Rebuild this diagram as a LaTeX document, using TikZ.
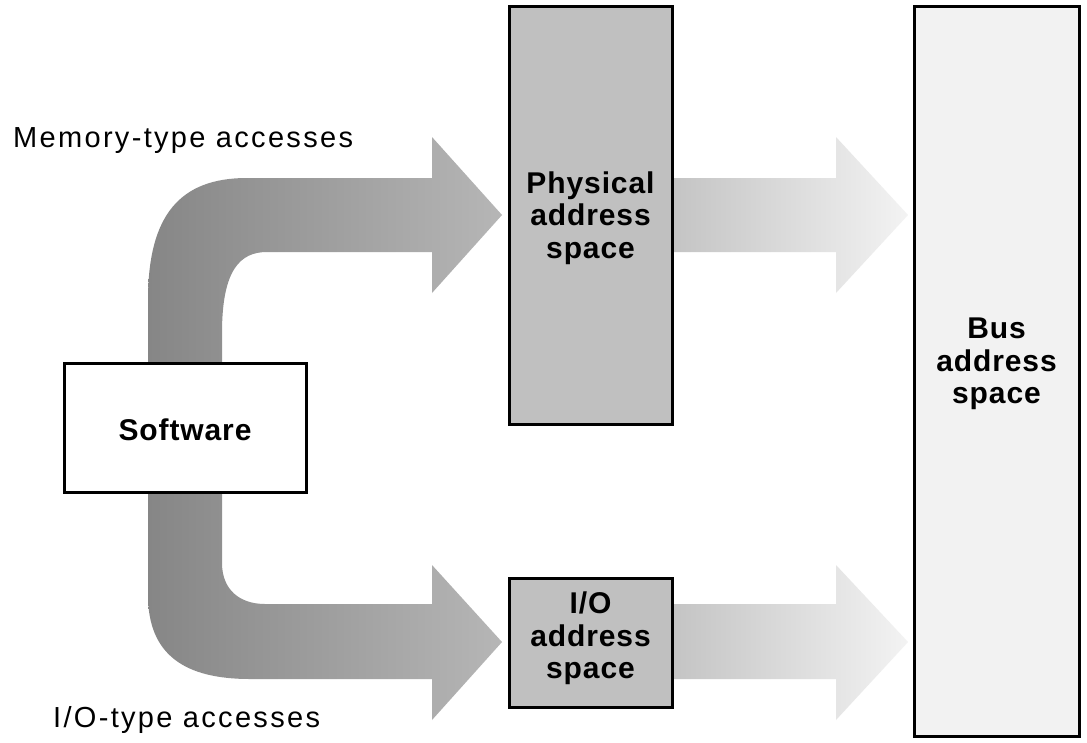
\documentclass[tikz,border=0pt]{standalone}
\usepackage{fontspec}
\setmainfont{Liberation Sans}
\newfontfamily\labfont[LetterSpace=8]{Liberation Sans}
\newfontfamily\boxfont[LetterSpace=3]{Liberation Sans}
\usetikzlibrary{backgrounds}
\definecolor{physgray}{RGB}{192,192,192}
\definecolor{busgray}{RGB}{242,242,242}
\definecolor{arrowdark}{RGB}{134,134,134}
\definecolor{arrowlight}{RGB}{182,182,182}
\definecolor{rarrowdark}{RGB}{196,196,196}
\definecolor{rarrowlight}{RGB}{243,243,243}
\begin{document}
\begin{tikzpicture}[x=1pt,y=-1pt,
  box/.style={draw=black, line width=3pt, inner sep=0pt},
  boxtext/.style={inner sep=0pt, align=center,
    font=\boxfont\bfseries\fontsize{30}{32.5}\selectfont},
  lab/.style={inner sep=0pt, anchor=base west,
    font=\labfont\fontsize{29}{33}\selectfont},
  leftarrow/.style={shading=axis, left color=arrowdark, right color=arrowlight, draw=none},
  rightarrow/.style={shading=axis, left color=rarrowdark, right color=rarrowlight, draw=none}]
\useasboundingbox (0,0) rectangle (1087,742);

% boxes
\node[box, fill=white, minimum width=242, minimum height=129] (sw) at (185,427.5) {};
\node[box, fill=physgray, minimum width=163, minimum height=418] (phys) at (590.5,215) {};
\node[box, fill=physgray, minimum width=163, minimum height=129] (io) at (590.5,642.5) {};
\node[box, fill=busgray, minimum width=165, minimum height=730] (bus) at (996.5,371) {};

% box texts
\node[boxtext] (swtext) at ([yshift=-2pt]sw.center) {Software};
\node[boxtext] (phystext) at ([yshift=-3pt]phys.center) {Physical\\address\\space};
\node[boxtext] (iotext) at ([yshift=4pt]io.center) {I/O\\address\\space};
\node[boxtext] (bustext) at ([yshift=7pt]bus.center) {Bus\\address\\space};

% labels
\node[lab] (memlab) at (13,147) {Memory-type accesses};
\node[lab] (iolab) at (53,727) {I/O-type accesses};

\begin{scope}[on background layer]
  \fill[white] (0,0) rectangle (1087,742);
  % software -> physical
  \path[leftarrow] (148,362) -- (148,300) .. controls (148,215) and (180,178) .. (247,178)
    -- (432,178) -- (432,137) -- (502,215) -- (432,293) -- (432,252) -- (267,252)
    .. controls (240,252) and (222,270) .. (222,333) -- (222,362) -- cycle;
  % software -> io
  \path[leftarrow] (148,493) -- (148,595) .. controls (148,655) and (185,679) .. (250,679)
    -- (432,679) -- (432,720) -- (502,642) -- (432,565) -- (432,604) -- (265,604)
    .. controls (240,604) and (222,590) .. (222,563) -- (222,493) -- cycle;
  % physical -> bus
  \path[rightarrow] (phys.east |- 0,178) -- (836,178) -- (836,137) -- (908,215)
    -- (836,293) -- (836,252) -- (phys.east |- 0,252) -- cycle;
  % io -> bus
  \path[rightarrow] (io.east |- 0,604) -- (836,604) -- (836,565) -- (908,642)
    -- (836,720) -- (836,679) -- (io.east |- 0,679) -- cycle;
\end{scope}
\end{tikzpicture}
\end{document}
